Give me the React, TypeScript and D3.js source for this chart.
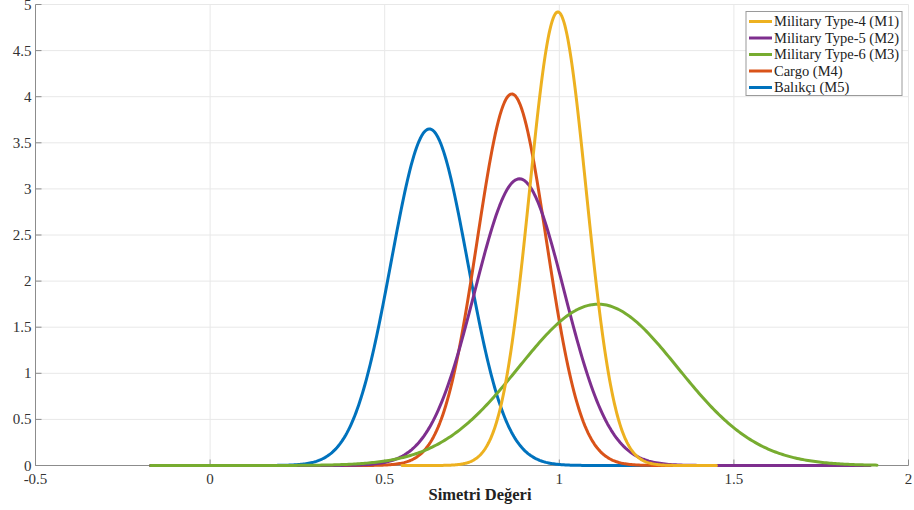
import React from "react";
import * as d3 from "d3";

// Series (normal distributions: mean and standard deviation)
const seriesNames = ["Military Type-4 (M1)", "Military Type-5 (M2)", "Military Type-6 (M3)", "Cargo (M4)", "Balıkçı (M5)"];
const seriesColors = ["#EDB120", "#7E2F8E", "#77AC30", "#D95319", "#0072BD"];
const seriesMeans = [0.996, 0.886, 1.111, 0.864, 0.628];
const seriesStds = [0.0811, 0.1283, 0.228, 0.099, 0.1093];
const seriesXMin = [0.55, -0.17, -0.17, -0.17, -0.17];
const seriesXMax = [1.45, 1.89, 1.91, 1.6, 1.3];
const drawOrder = [4, 3, 1, 2, 0];

const xTicks = [-0.5, 0, 0.5, 1, 1.5, 2];
const yTicks = [0, 0.5, 1, 1.5, 2, 2.5, 3, 3.5, 4, 4.5, 5];
const xLabel = "Simetri Değeri";

const W = 914, H = 510;
const margin = { left: 35.5, right: 5.5, top: 4.5, bottom: 44.5 };

export default function App() {
  const x = d3.scaleLinear().domain([-0.5, 2]).range([margin.left, W - margin.right]);
  const y = d3.scaleLinear().domain([0, 5]).range([H - margin.bottom, margin.top]);
  const font = "'Liberation Serif', 'Times New Roman', serif";

  const line = d3.line<[number, number]>().x(d => x(d[0])).y(d => y(d[1])).curve(d3.curveLinear);

  const curves = seriesNames.map((_, i) => {
    const mu = seriesMeans[i], s = seriesStds[i];
    const n = 400;
    const pts: [number, number][] = [];
    for (let k = 0; k <= n; k++) {
      const xv = seriesXMin[i] + (seriesXMax[i] - seriesXMin[i]) * k / n;
      const yv = Math.exp(-0.5 * ((xv - mu) / s) ** 2) / (s * Math.sqrt(2 * Math.PI));
      pts.push([xv, yv]);
    }
    return pts;
  });

  const x0 = x.range()[0], x1 = x.range()[1];
  const y0 = y.range()[0], y1 = y.range()[1];
  const legX = 746, legY = 11.5, legW = 156, legH = 84, rowH = 16.5;

  return (
    <svg width={W} height={H} style={{ position: "absolute", left: 0, top: 0, background: "#fff" }}>
      <rect x={0} y={0} width={W} height={H} fill="#fff" />
      {/* grid */}
      {xTicks.map(t => (
        <line key={"gx" + t} x1={x(t)} x2={x(t)} y1={y0} y2={y1} stroke="#e8e8e8" strokeWidth={1} />
      ))}
      {yTicks.map(t => (
        <line key={"gy" + t} x1={x0} x2={x1} y1={y(t)} y2={y(t)} stroke="#e8e8e8" strokeWidth={1} />
      ))}
      {/* axes */}
      <line x1={x0} x2={x1} y1={y0} y2={y0} stroke="#8c8c8c" strokeWidth={1} />
      <line x1={x0} x2={x0} y1={y0} y2={y1} stroke="#8c8c8c" strokeWidth={1} />
      {xTicks.map(t => (
        <line key={"tx" + t} x1={x(t)} x2={x(t)} y1={y0} y2={y0 - 6} stroke="#8c8c8c" strokeWidth={1} />
      ))}
      {yTicks.map(t => (
        <line key={"ty" + t} x1={x0} x2={x0 + 6} y1={y(t)} y2={y(t)} stroke="#8c8c8c" strokeWidth={1} />
      ))}
      {/* tick labels */}
      {xTicks.map(t => (
        <text key={"lx" + t} x={x(t)} y={y0 + 18.5} textAnchor="middle" fontFamily={font} fontSize={15} fill="#333">
          {String(t)}
        </text>
      ))}
      {yTicks.map(t => (
        <text key={"ly" + t} x={x0 - 4} y={y(t) + 5} textAnchor="end" fontFamily={font} fontSize={15} fill="#333">
          {String(t)}
        </text>
      ))}
      <text x={480} y={500} textAnchor="middle" fontFamily={font} fontSize={16.5} fontWeight="bold" fill="#222">
        {xLabel}
      </text>
      {/* curves */}
      {drawOrder.map(i => (
        <path key={"c" + i} d={line(curves[i]) || ""} fill="none" stroke={seriesColors[i]} strokeWidth={3} strokeLinejoin="round" strokeLinecap="round" />
      ))}
      {/* legend */}
      <rect x={legX} y={legY} width={legW} height={legH} fill="#fff" stroke="#9a9a9a" strokeWidth={1} />
      {seriesNames.map((name, i) => {
        const cy = legY + 10 + i * rowH;
        return (
          <g key={"lg" + i}>
            <line x1={legX + 3} x2={legX + 26} y1={cy} y2={cy} stroke={seriesColors[i]} strokeWidth={3} />
            <text x={legX + 28} y={cy + 4.5} fontFamily={font} fontSize={14.5} fill="#222">{name}</text>
          </g>
        );
      })}
    </svg>
  );
}
